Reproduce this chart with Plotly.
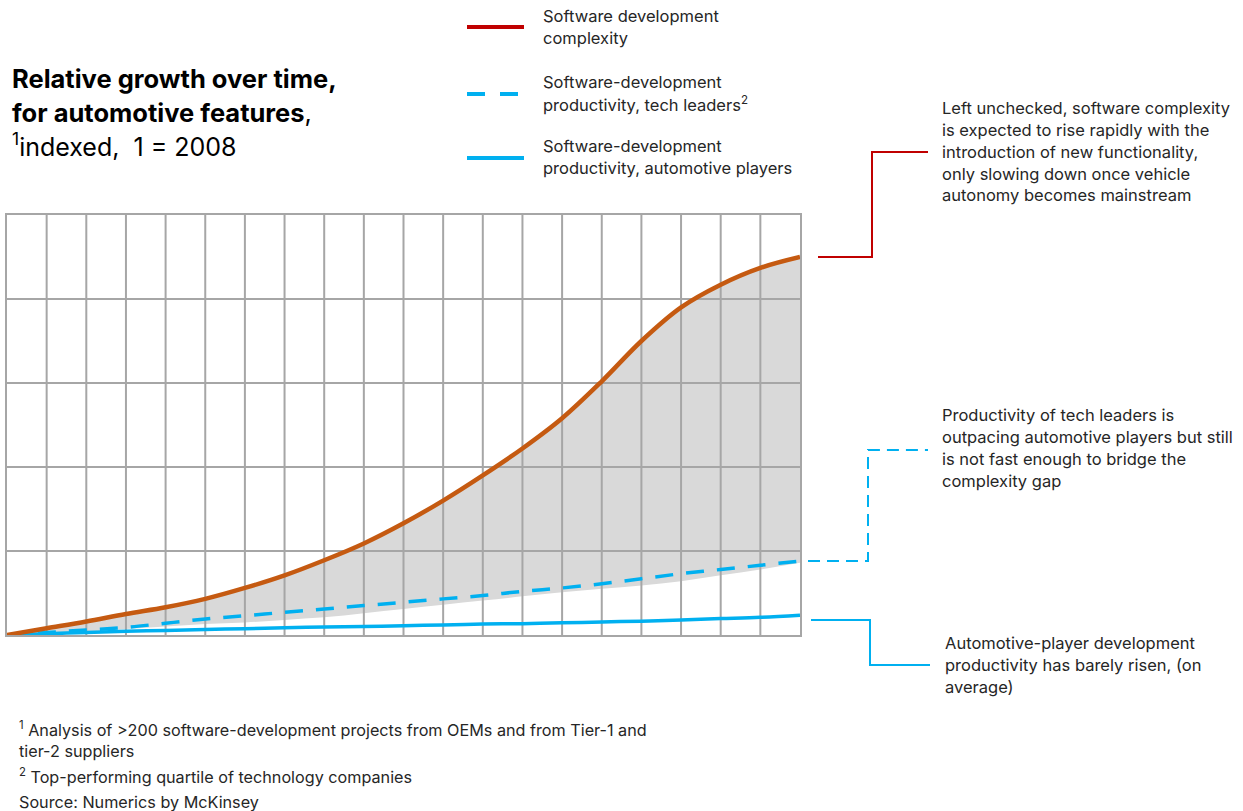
import plotly.graph_objects as go

# ---------------- data ----------------
periods = list(range(21))
complexity = [0.0, 0.08, 0.16, 0.25, 0.33, 0.43, 0.56, 0.71, 0.89, 1.09, 1.33,
              1.60, 1.90, 2.22, 2.58, 3.02, 3.50, 3.90, 4.17, 4.37, 4.50]
tech_leaders = [0.0, 0.03, 0.06, 0.09, 0.14, 0.19, 0.23, 0.27, 0.31, 0.35, 0.39,
                0.43, 0.47, 0.52, 0.56, 0.61, 0.67, 0.73, 0.78, 0.83, 0.88]
gap_lower = [0.0, 0.02, 0.04, 0.07, 0.10, 0.13, 0.15, 0.18, 0.21, 0.26, 0.31,
             0.36, 0.41, 0.46, 0.51, 0.55, 0.59, 0.64, 0.71, 0.78, 0.86]
automotive = [0.0, 0.015, 0.03, 0.045, 0.055, 0.065, 0.075, 0.085, 0.095, 0.10, 0.11,
              0.12, 0.13, 0.135, 0.145, 0.155, 0.165, 0.18, 0.195, 0.21, 0.235]
x_grid = list(range(1, 20))
y_grid = [1, 2, 3, 4]
x_max = 20
y_max = 5

series_names = ["Software development complexity",
                "Software-development productivity, tech leaders",
                "Software-development productivity, automotive players"]

# ---------------- style ----------------
W, H = 1243, 811
L, R, T, B = 7, 800, 215, 635
ORANGE = "#c55a11"
RED = "#c00000"
BLUE = "#00b0f0"
GRID = "#a6a6a6"
FILL = "#d9d9d9"
TXT = "#262626"
FONT = "Inter, Open Sans, sans-serif"


def px(x):
    return (x - L) / (R - L)


def py(y):
    return (B - y) / (B - T)


fig = go.Figure()

# gray gap fill
fig.add_trace(go.Scatter(x=periods, y=gap_lower, mode="lines", line=dict(width=0, shape="spline"),
                         hoverinfo="skip", showlegend=False))
fig.add_trace(go.Scatter(x=periods, y=complexity, mode="lines", line=dict(width=0, shape="spline"),
                         fill="tonexty", fillcolor=FILL, hoverinfo="skip", showlegend=False))

# grid drawn above the fill
gx, gy = [], []
for v in x_grid:
    gx += [v, v, None]
    gy += [0, y_max, None]
for v in y_grid:
    gx += [0, x_max, None]
    gy += [v, v, None]
fig.add_trace(go.Scatter(x=gx, y=gy, mode="lines", line=dict(color=GRID, width=2),
                         hoverinfo="skip", showlegend=False))

# series
fig.add_trace(go.Scatter(x=periods, y=automotive, mode="lines", name=series_names[2],
                         line=dict(color=BLUE, width=3.5, shape="spline"), showlegend=False))
fig.add_trace(go.Scatter(x=periods, y=tech_leaders, mode="lines", name=series_names[1],
                         line=dict(color=BLUE, width=3.5, shape="spline", dash="18px,13px"),
                         showlegend=False))
fig.add_trace(go.Scatter(x=periods, y=complexity, mode="lines", name=series_names[0],
                         line=dict(color=ORANGE, width=4.5, shape="spline"), showlegend=False))

shapes = []
annotations = []


def text_lines(lines, x, ys, size=16.5, color=TXT, family=FONT):
    for t, y in zip(lines, ys):
        annotations.append(dict(text=t, x=px(x), y=py(y), xref="paper", yref="paper",
                                xanchor="left", yanchor="middle", showarrow=False,
                                font=dict(size=size, color=color, family=family)))


def path(pts, color, width=2, dash="solid"):
    d = "M " + " L ".join(f"{px(a):.5f},{py(b):.5f}" for a, b in pts)
    shapes.append(dict(type="path", path=d, xref="paper", yref="paper",
                       line=dict(color=color, width=width, dash=dash)))


# legend (manual)
path([(467, 27), (524, 27)], RED, 4)
path([(467, 94), (522, 94)], BLUE, 4, "18px,15px")
path([(467, 158), (524, 158)], BLUE, 4)
text_lines(["Software development", "complexity"], 541, [16, 38])
text_lines(["Software-development", "productivity, tech leaders<sup>2</sup>"], 541, [82, 104])
text_lines(["Software-development", "productivity, automotive players"], 541, [146, 168])

# title
text_lines(["<b>Relative growth over time,</b>", "<b>for automotive features</b>,"], 10, [78, 112],
           size=25.5, color="#000000")
text_lines(["<sup>1</sup>indexed,&nbsp; 1 = 2008"], 10, [145], size=25, color="#000000")

# callouts
y_c = B - complexity[-1] / y_max * (B - T)
y_t = B - tech_leaders[-1] / y_max * (B - T)
path([(818, y_c), (872, y_c), (872, 152), (928, 152)], RED, 2)
path([(808, y_t), (868, y_t), (868, 450), (928, 450)], BLUE, 2, "12px,7px")
path([(811, 620), (870, 620), (870, 665), (930, 665)], BLUE, 2)

text_lines(["Left unchecked, software complexity",
            "is expected to rise rapidly with the",
            "introduction of new functionality,",
            "only slowing down once vehicle",
            "autonomy becomes mainstream"], 940, [108, 130, 152, 174, 195])
text_lines(["Productivity of tech leaders is",
            "outpacing automotive players but still",
            "is not fast enough to bridge the",
            "complexity gap"], 940, [415, 437, 459, 481])
text_lines(["Automotive-player development",
            "productivity has barely risen, (on",
            "average)"], 943, [643, 665, 687])

# footnotes
text_lines(["<sup>1</sup> Analysis of &gt;200 software-development projects from OEMs and from Tier-1 and",
            "tier-2 suppliers",
            "<sup>2</sup> Top-performing quartile of technology companies",
            "Source: Numerics by McKinsey"], 17, [729, 751, 776, 802], size=16.2)

fig.update_layout(
    width=W, height=H,
    margin=dict(l=L, r=W - R, t=T, b=H - B, pad=0),
    paper_bgcolor="white", plot_bgcolor="white",
    shapes=shapes, annotations=annotations,
    showlegend=False,
    xaxis=dict(range=[0, x_max], showgrid=False, zeroline=False, showticklabels=False,
               ticks="", showline=True, mirror=True, linecolor=GRID, linewidth=2, fixedrange=True),
    yaxis=dict(range=[0, y_max], showgrid=False, zeroline=False, showticklabels=False,
               ticks="", showline=True, mirror=True, linecolor=GRID, linewidth=2, fixedrange=True),
    font=dict(family=FONT, color=TXT),
)

fig.write_html("out.html")
